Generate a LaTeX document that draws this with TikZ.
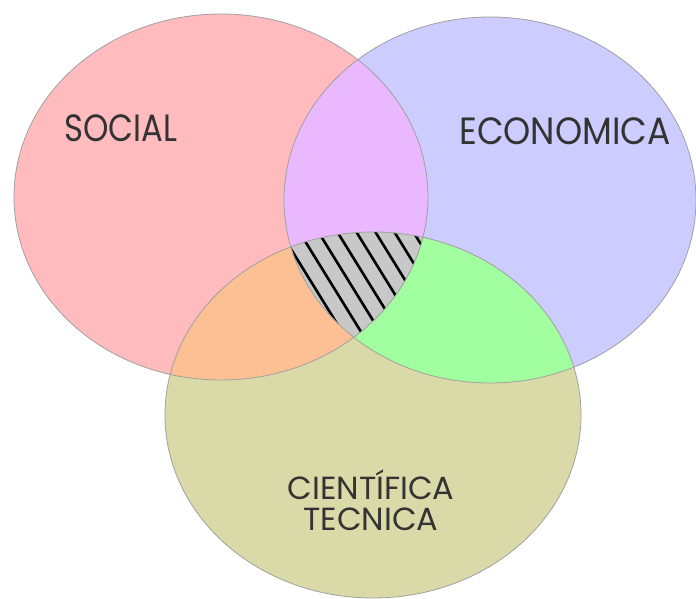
\documentclass[tikz,border=0pt]{standalone}
\usepackage{fontspec}
\setmainfont{Poppins}
\usetikzlibrary{positioning}
\definecolor{social}{RGB}{255,187,190}
\definecolor{econ}{RGB}{204,204,255}
\definecolor{tecn}{RGB}{218,218,168}
\definecolor{soceco}{RGB}{234,184,255}
\definecolor{soctec}{RGB}{253,192,148}
\definecolor{ecotec}{RGB}{162,255,160}
\definecolor{core}{RGB}{200,200,200}
\definecolor{rim}{RGB}{160,160,160}
\newcommand{\vennsocial}{(221,402) ellipse [x radius=207, y radius=183]}
\newcommand{\vennecon}{(490,399) ellipse [x radius=206, y radius=183]}
\newcommand{\venntecn}{(373,184) ellipse [x radius=208, y radius=183]}
\newcommand{\narrow}[2]{\scalebox{#1}[1]{#2}}

\begin{document}
\begin{tikzpicture}[x=1pt, y=1pt,
    every label/.style = {font = \fontsize{38}{44}\selectfont,
      text = black!80, inner sep = 0pt},
    rim line/.style = {draw = rim, line width = 0.8pt},
  ]
    \useasboundingbox (0,0) rectangle (696,599);
    % the three sets
    \fill [social] \vennsocial;
    \fill [econ] \vennecon;
    \fill [tecn] \venntecn;
    % overlaps of two
    \begin{scope}
      \clip \vennsocial;
      \fill [soceco] \vennecon;
      \fill [soctec] \venntecn;
    \end{scope}
    \begin{scope}
      \clip \vennecon;
      \fill [ecotec] \venntecn;
    \end{scope}
    % the middle, hatched
    \begin{scope}
      \clip \vennsocial;
      \clip \vennecon;
      \fill [core] \venntecn;
      \clip \venntecn;
      \foreach \k in {-4,...,12}
        \draw [line width = 2.6pt] (279+\k*19,400) -- ++(-58.3:220);
    \end{scope}
    \draw [rim line] \vennsocial;
    \draw [rim line] \vennecon;
    \draw [rim line] \venntecn;
    % names
    \node (Social) [every label] at (121,471) {\narrow{0.85}{SOCIAL}};
    \node (Econ) [every label] at (565,468) {\narrow{0.91}{ECONOMICA}};
    \node (Tecn) [every label, align = center, font = \fontsize{32}{31}\selectfont]
      at (371,99) {CIENTÍFICA\\TECNICA};
\end{tikzpicture}
\end{document}
